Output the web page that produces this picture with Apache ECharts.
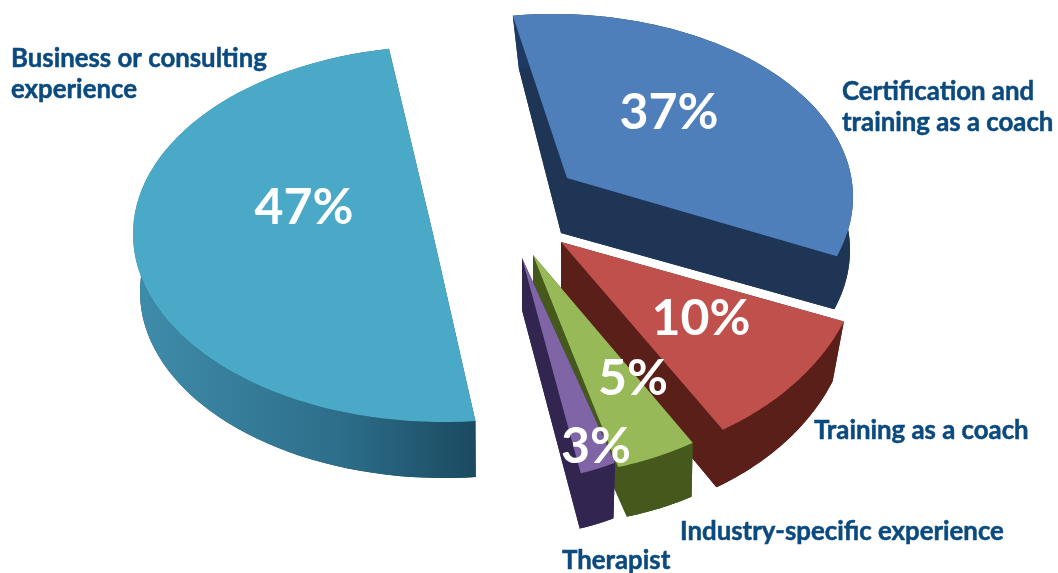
<!DOCTYPE html>
<html>
<head>
<meta charset="utf-8">
<style>html,body{margin:0;padding:0;background:#fff}#c{width:1058px;height:573px}</style>
<script src="https://cdn.jsdelivr.net/npm/echarts@6/dist/echarts.min.js"></script>
</head>
<body>
<div id="c"></div>
<script>
// Source of coaching background: share of respondents per category.
const categories = ['Business or consulting\nexperience', 'Certification and\ntraining as a coach', 'Training as a coach', 'Industry-specific experience', 'Therapist'];
const shares = [47, 37, 10, 5, 3];

// Slice colours: top face, straight wall, curved wall stops.
const topColors = ['#4aa9c7', '#4e7fbb', '#c0504c', '#98b957', '#8065a6'];
const wallColors = ['#1c4c62', '#1f3556', '#5a1f18', '#46591d', '#32254f'];
const bandStops = [
  ['#3f8dab', '#2d6e8a', '#1b4a60'],
  ['#1f3a62', '#1f3556', '#1f3556'],
  ['#5a1f18', '#5a1f18', '#5a1f18'],
  ['#46591d', '#46591d', '#46591d'],
  ['#32254f', '#32254f', '#32254f']
];

// Exploded 3D layout: each slice is an elliptical wedge, with a top and a base ellipse.
// warp corrects the arc's sweep for foreshortening.
const wedges = [
  { start: -84, warp: 1.04, top: { ax: 433, ay: 234, cx: 443, cy: 234, rx: 310, ry: 188 }, base: { ax: 434, ay: 290, cx: 444, cy: 292, rx: 304, ry: 186 } },
  { start: 97.7, warp: 0.875, top: { ax: 567, ay: 178, cx: 553, cy: 197, rx: 300, ry: 183 }, base: { ax: 561, ay: 233, cx: 558, cy: 250, rx: 292, ry: 183 } },
  { start: -21, warp: 1.02, top: { ax: 561, ay: 242, cx: 561, cy: 242, rx: 303, ry: 222 }, base: { ax: 561, ay: 300, cx: 561, cy: 303, rx: 291, ry: 218 } },
  { start: -58.2, warp: 0.86, top: { ax: 533, ay: 255, cx: 533, cy: 255, rx: 303, ry: 221 }, base: { ax: 533, ay: 305, cx: 553, cy: 342, rx: 263, ry: 182 } },
  { start: -67.2, warp: 0.8, top: { ax: 522, ay: 258, cx: 522, cy: 258, rx: 240, ry: 222 }, base: { ax: 522, ay: 310, cx: 522, cy: 322, rx: 236, ry: 213 } }
];

// Text anchors.
const percentAnchors = [[304, 208], [669, 113], [701, 319], [633, 379], [596, 447]];
const nameAnchors = [[11, 74], [842, 107], [814, 431], [680, 532], [562, 561]];

const DEG_PER_PERCENT = 3.6;

function arcPoints(e, from, sweep) {
  const pts = [];
  const steps = 72;
  for (let i = 0; i <= steps; i++) {
    const t = (from - sweep * i / steps) * Math.PI / 180;
    pts.push([e.cx + e.rx * Math.cos(t), e.cy - e.ry * Math.sin(t)]);
  }
  return pts;
}

function poly(points, fill, extra) {
  return Object.assign({ type: 'polygon', shape: { points }, style: { fill }, silent: true }, extra || {});
}

function renderSlice(params, api) {
  const i = params.dataIndex;
  const value = api.value(0);
  const w = wedges[i];
  const sweep = value * DEG_PER_PERCENT * w.warp;
  const topArc = arcPoints(w.top, w.start, sweep);
  const baseArc = arcPoints(w.base, w.start, sweep);
  const topApex = [w.top.ax, w.top.ay];
  const baseApex = [w.base.ax, w.base.ay];
  const last = topArc.length - 1;
  const stops = bandStops[i];
  const bandFill = new echarts.graphic.LinearGradient(0, 0, 1, 0, [
    { offset: 0, color: stops[0] },
    { offset: 0.6, color: stops[1] },
    { offset: 1, color: stops[2] }
  ]);
  return {
    type: 'group',
    children: [
      poly([baseApex].concat(baseArc), wallColors[i]),
      poly([topApex, topArc[0], baseArc[0], baseApex], wallColors[i]),
      poly([topApex, topArc[last], baseArc[last], baseApex], wallColors[i]),
      poly(topArc.concat(baseArc.slice().reverse()), bandFill),
      poly([topApex].concat(topArc), topColors[i])
    ]
  };
}

function renderText(params, api) {
  const i = params.dataIndex;
  const p = percentAnchors[i];
  const n = nameAnchors[i];
  return {
    type: 'group',
    children: [
      { type: 'text', silent: true, style: {
        x: p[0], y: p[1], text: api.value(0) + '%', fill: '#ffffff',
        font: '700 50px Lato', textAlign: 'center', textVerticalAlign: 'middle' } },
      { type: 'text', silent: true, style: {
        x: n[0], y: n[1], text: categories[i], fill: '#0b4a7e', stroke: '#0b4a7e', lineWidth: 0.5,
        font: '700 25.8px Lato', lineHeight: 31, textAlign: 'left', textVerticalAlign: 'middle' } }
    ]
  };
}

const chart = echarts.init(document.getElementById('c'), null, { renderer: 'canvas' });
chart.setOption({
  animation: false,
  backgroundColor: '#ffffff',
  series: [
    { type: 'custom', coordinateSystem: 'none', renderItem: renderSlice, data: shares.map(v => [v]), z: 2 },
    { type: 'custom', coordinateSystem: 'none', renderItem: renderText, data: shares.map(v => [v]), z: 3 }
  ]
});
</script>
</body>
</html>
